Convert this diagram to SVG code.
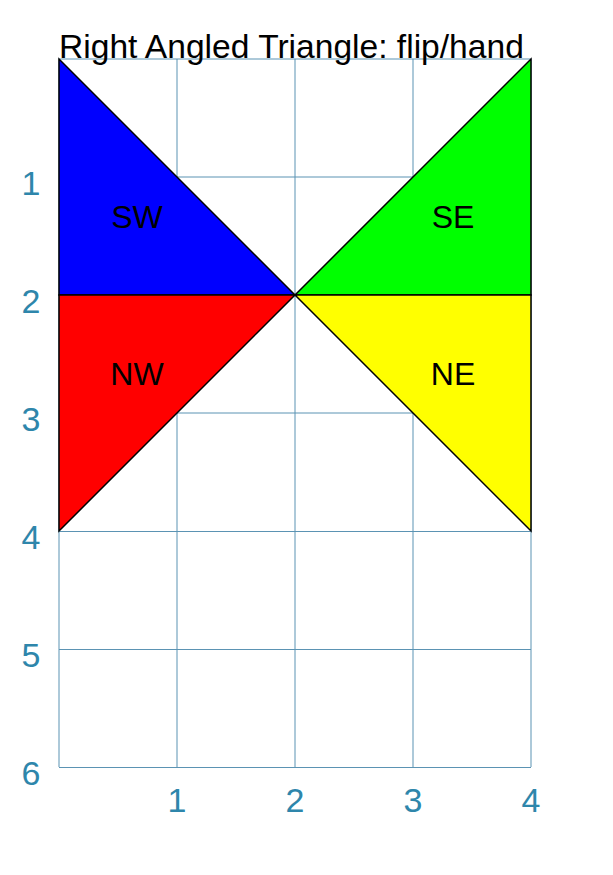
<svg xmlns="http://www.w3.org/2000/svg" width="613" height="875" viewBox="0 0 613 875">
<style>
.grid{stroke:#5b93b3;stroke-width:1;fill:none}
.ax{font-family:"Liberation Sans",Arial,sans-serif;font-size:34px;fill:#2e86ab;text-anchor:middle}
.tri{stroke:#000;stroke-width:1.5;stroke-linejoin:miter}
.lbl{font-family:"Liberation Sans",Arial,sans-serif;font-size:32px;fill:#000;text-anchor:middle}
</style>
<rect width="613" height="875" fill="#fff"/>
<g id="grid">
<path class="grid" d="M59 59V767M177 59V767M295 59V767M413 59V767M531 59V767M59 59H531M59 177H531M59 295H531M59 413H531M59 531.5H531M59 649.5H531M59 767.5H531"/>
</g>
<g id="axes">
<text class="ax" x="31" y="195">1</text>
<text class="ax" x="31" y="313">2</text>
<text class="ax" x="31" y="431">3</text>
<text class="ax" x="31" y="549">4</text>
<text class="ax" x="31" y="667">5</text>
<text class="ax" x="31" y="785">6</text>
<text class="ax" x="177" y="812">1</text>
<text class="ax" x="295" y="812">2</text>
<text class="ax" x="413" y="812">3</text>
<text class="ax" x="531" y="812">4</text>
</g>
<g id="SW"><polygon class="tri" fill="#0000ff" points="59,59 59,295 295,295"/><text class="lbl" x="137" y="228">SW</text></g>
<g id="SE"><polygon class="tri" fill="#00ff00" points="531,59 531,295 295,295"/><text class="lbl" x="453" y="228">SE</text></g>
<g id="NW"><polygon class="tri" fill="#ff0000" points="59,295 295,295 59,531"/><text class="lbl" x="137" y="385">NW</text></g>
<g id="NE"><polygon class="tri" fill="#ffff00" points="295,295 531,295 531,531"/><text class="lbl" x="453" y="385">NE</text></g>
<text x="59" y="58" font-family="Liberation Sans, Arial, sans-serif" font-size="33.6" fill="#000">Right Angled Triangle: flip/hand</text>
</svg>
